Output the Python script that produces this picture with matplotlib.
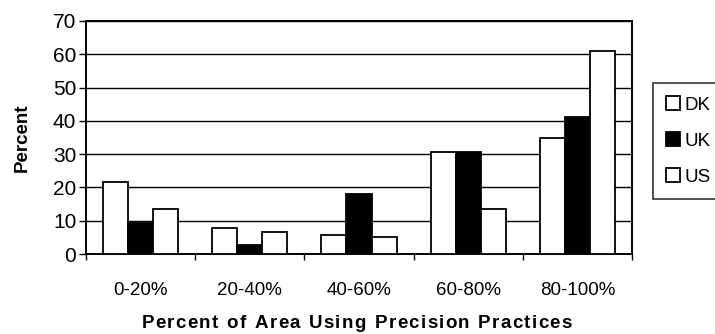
import numpy as np
import matplotlib.pyplot as plt
from matplotlib.ticker import FixedLocator

categories = ["0-20%", "20-40%", "40-60%", "60-80%", "80-100%"]
dk = [21.5, 7.8, 5.7, 30.7, 34.9]
uk = [9.2, 2.6, 17.9, 30.7, 41.2]
us = [13.6, 6.5, 5.2, 13.5, 60.9]

plt.rcParams['font.family'] = ['Liberation Sans', 'DejaVu Sans']

fig = plt.figure(figsize=(7.15, 3.34), dpi=100)
ax = fig.add_axes([86 / 715, 1 - 254 / 334, 546 / 715, 233 / 334])

x = np.arange(len(categories))
w = 0.23
ax.bar(x - w, dk, w, color="white", edgecolor="black", linewidth=1.3, label="DK", zorder=3)
ax.bar(x, uk, w, color="black", edgecolor="black", linewidth=1.3, label="UK", zorder=3)
ax.bar(x + w, us, w, color="white", edgecolor="black", linewidth=1.3, label="US", zorder=3)

ax.set_xlim(-0.5, len(categories) - 0.5)
ax.set_ylim(0, 70)
ax.set_yticks(range(0, 71, 10))
ax.yaxis.grid(True, color="black", linewidth=1.0, zorder=0)
ax.tick_params(axis="y", labelsize=15, length=5, width=1, direction="out", pad=2)

# ticks at category boundaries, labels at centres
ax.xaxis.set_major_locator(FixedLocator(np.arange(-0.5, len(categories), 1.0)))
ax.set_xticklabels([])
ax.xaxis.set_minor_locator(FixedLocator(x))
ax.set_xticklabels(categories, minor=True)
ax.tick_params(axis="x", which="major", length=4, width=1, direction="out")
ax.tick_params(axis="x", which="minor", length=0, pad=20, labelsize=13.5)

for s in ax.spines.values():
    s.set_color("black")
    s.set_linewidth(1.4)

ax.set_ylabel("Percent", fontsize=13.5, fontweight="bold", labelpad=16)

# x title drawn letter by letter to get the wide tracking of the original
title = "Percent of Area Using Precision Practices"
fig.canvas.draw()
renderer = fig.canvas.get_renderer()
track = 1.3
fs = 13.5
widths = []
for ch in title:
    t = fig.text(0, 0, ch if ch != " " else "n", fontsize=fs, fontweight="bold")
    bb = t.get_window_extent(renderer)
    widths.append(bb.width * (0.55 if ch == " " else 1.0))
    t.remove()
total = sum(widths) + track * (len(title) - 1)
xpos = (135 + 578) / 2 - total / 2
for ch, cw in zip(title, widths):
    if ch != " ":
        fig.text(xpos / 715, 1 - 324 / 334, ch, ha="left", va="center",
                 fontsize=fs, fontweight="bold")
    xpos += cw + track

leg = fig.legend(loc="upper left", bbox_to_anchor=(653 / 715, 1 - 83 / 334),
                 fontsize=13.5, frameon=True, fancybox=False, edgecolor="black",
                 handlelength=0.75, handleheight=0.75, handletextpad=0.25,
                 labelspacing=1.0, borderpad=0.7, borderaxespad=0)
leg.get_frame().set_linewidth(1.2)

fig.savefig("out.png", dpi=100)
